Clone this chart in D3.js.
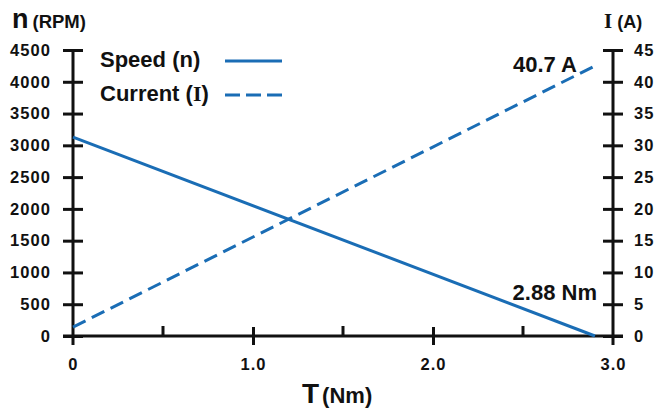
<html>
<head>
<script src="https://cdnjs.cloudflare.com/ajax/libs/d3/7.8.5/d3.min.js"></script>
<style>
  body { margin: 0; background: #fff; }
  text { font-family: "Liberation Sans", Arial, sans-serif; font-weight: bold; fill: #111; }
  .axis path, .axis line { stroke: #111; stroke-width: 3; }
  .axis text { font-size: 16.5px; letter-spacing: 1.1px; font-family: "Liberation Sans", Arial, sans-serif; }
</style>
</head>
<body>
<div id="chart"></div>
<script>
  // torque (Nm) at the two ends of the curves
  const torque = [0, 2.9];
  // speed n (RPM) and current I (A)
  const speed = [3130, 0];
  const current = [1.4, 42.5];

  const nTicks = [0, 500, 1000, 1500, 2000, 2500, 3000, 3500, 4000, 4500];
  const iTicks = [0, 5, 10, 15, 20, 25, 30, 35, 40, 45];
  const tMajor = [0, 1.0, 2.0, 3.0];
  const tMinor = [0.5, 1.5, 2.5];

  const width = 656, height = 410;
  const margin = { top: 50, right: 43, bottom: 74, left: 73 };
  const w = width - margin.left - margin.right;
  const h = height - margin.top - margin.bottom;
  const blue = '#1a6db5';

  const svg = d3.select('#chart').append('svg')
      .attr('width', width)
      .attr('height', height);

  const g = svg.append('g')
      .attr('transform', `translate(${margin.left},${margin.top})`);

  const x = d3.scaleLinear().domain([0, 3]).range([0, w]);
  const yN = d3.scaleLinear().domain([0, 4500]).range([h, 0]);
  const yI = d3.scaleLinear().domain([0, 45]).range([h, 0]);

  // left axis
  const left = g.append('g').attr('class', 'axis')
      .call(d3.axisLeft(yN).tickValues(nTicks).tickFormat(d3.format('d')).tickSizeOuter(0));
  left.select('.domain').attr('d', `M0,${h + 9}V0`);
  left.selectAll('.tick line').attr('x1', -10).attr('x2', 10);
  left.selectAll('.tick text').attr('x', -22);

  // right axis
  const right = g.append('g').attr('class', 'axis')
      .attr('transform', `translate(${w},0)`)
      .call(d3.axisRight(yI).tickValues(iTicks).tickSizeOuter(0));
  right.select('.domain').attr('d', `M0,${h + 9}V0`);
  right.selectAll('.tick line').attr('x1', -10).attr('x2', 10);
  right.selectAll('.tick text').attr('x', 21);

  // bottom axis
  const bottom = g.append('g').attr('class', 'axis')
      .attr('transform', `translate(0,${h})`)
      .call(d3.axisBottom(x).tickValues(tMajor)
        .tickFormat(d => d === 0 ? '0' : d3.format('.1f')(d))
        .tickSizeOuter(0));
  bottom.select('.domain').attr('d', `M-10,0H${w + 10}`);
  bottom.selectAll('.tick line').attr('y1', -9).attr('y2', 9)
      .filter(d => d === 0 || d === 3).remove();
  bottom.selectAll('.tick text').attr('y', 22);
  bottom.selectAll('.minor').data(tMinor).enter().append('line')
      .attr('x1', d => x(d)).attr('x2', d => x(d))
      .attr('y1', 0).attr('y2', -10)
      .attr('stroke', '#111').attr('stroke-width', 3);

  // curves
  const pts = torque.map((t, i) => ({ t, n: speed[i], c: current[i] }));
  g.append('path').datum(pts)
      .attr('fill', 'none').attr('stroke', blue).attr('stroke-width', 3)
      .attr('d', d3.line().x(d => x(d.t)).y(d => yN(d.n)));
  g.append('path').datum(pts)
      .attr('fill', 'none').attr('stroke', blue).attr('stroke-width', 3)
      .attr('stroke-dasharray', '14,7')
      .attr('d', d3.line().x(d => x(d.t)).y(d => yI(d.c)));

  // axis titles
  const tn = svg.append('text').attr('x', 12).attr('y', 28);
  tn.append('tspan').style('font-size', '27px').text('n');
  tn.append('tspan').attr('dx', 4).style('font-size', '18.5px').text('(RPM)');

  const ti = svg.append('text').attr('x', 604).attr('y', 28);
  ti.append('tspan').style('font-size', '21px').style('font-family', 'Liberation Serif, serif').text('I');
  ti.append('tspan').attr('dx', 5).style('font-size', '18px').text('(A)');

  const tt = svg.append('text').attr('x', 302).attr('y', 403);
  tt.append('tspan').style('font-size', '28px').text('T');
  tt.append('tspan').attr('dx', 3).style('font-size', '22px').text('(Nm)');

  // legend
  const legend = [
    { label: 'Speed (', sym: 'n', y: 67, dash: null, serif: false },
    { label: 'Current (', sym: 'I', y: 101, dash: '15,6', serif: true }
  ];
  legend.forEach(l => {
    const t = svg.append('text').attr('x', 100).attr('y', l.y).style('font-size', '22px');
    t.append('tspan').text(l.label);
    t.append('tspan').style('font-family', l.serif ? 'Liberation Serif, serif' : null).text(l.sym);
    t.append('tspan').text(')');
    svg.append('line')
        .attr('x1', 225).attr('x2', 282).attr('y1', l.y - 6).attr('y2', l.y - 6)
        .attr('stroke', blue).attr('stroke-width', 3)
        .attr('stroke-dasharray', l.dash);
  });

  // annotations
  svg.append('text').attr('x', 577).attr('y', 72).attr('text-anchor', 'end')
      .style('font-size', '22px').text('40.7 A');
  svg.append('text').attr('x', 597).attr('y', 300).attr('text-anchor', 'end')
      .style('font-size', '22px').text('2.88 Nm');
</script>
</body>
</html>
